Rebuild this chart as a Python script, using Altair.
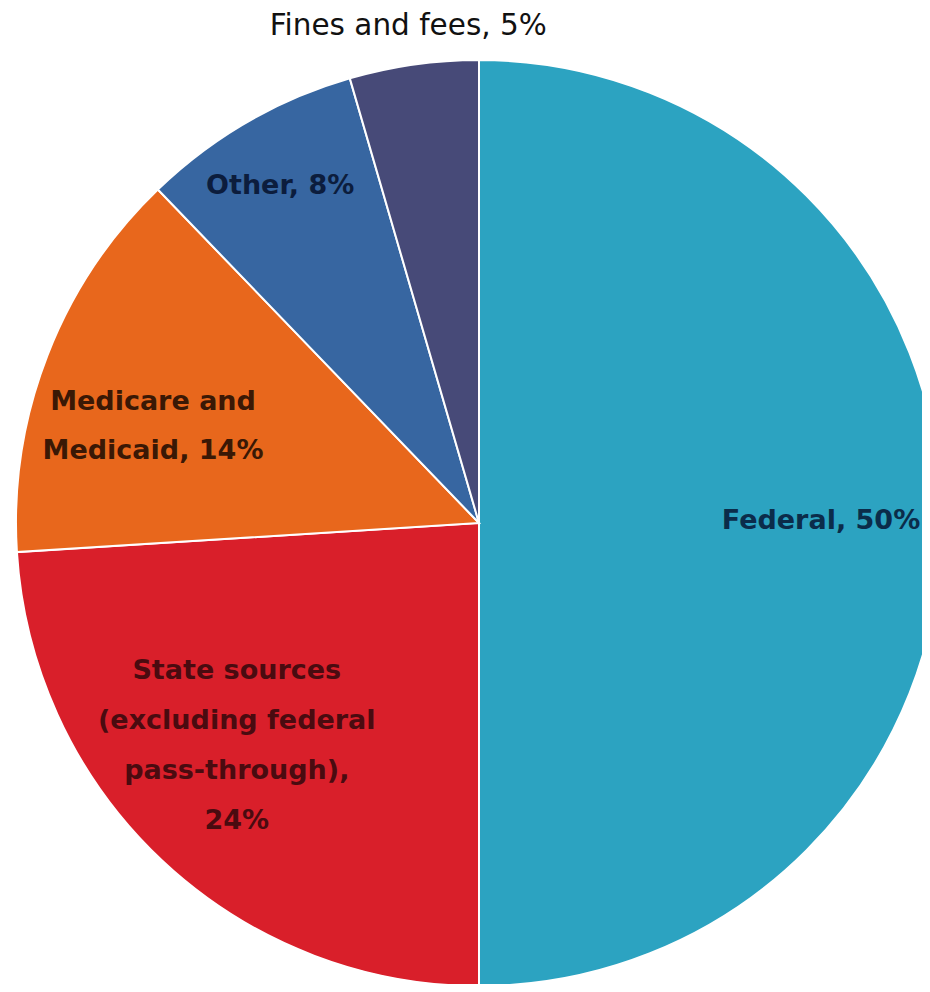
import math
import altair as alt
import pandas as pd

# Data (slice sizes from the drawn angles, printed percentages in labels)
categories = ["Federal", "State sources", "Medicare and Medicaid", "Other", "Fines and fees"]
shares = [50.0, 24.0, 13.8, 7.7, 4.5]
labels = [
    "Federal, 50%",
    "State sources\n(excluding federal\npass-through),\n24%",
    "Medicare and\nMedicaid, 14%",
    "Other, 8%",
    "Fines and fees, 5%",
]
colors = ["#2ca3c1", "#d91f2a", "#e8671c", "#3766a1", "#474a78"]

# Styling for the labels (not data)
label_radius = [354, 329, 339, 391, 502]
label_dx = [-12, -17, -10, -3, 0]
label_dy = [-2, -92, 2, 1, 0]
label_color = ["#0b2c4a", "#4a0b10", "#3a1805", "#0c1d3d", "#111111"]
label_weight = ["bold", "bold", "bold", "bold", "normal"]
label_size = [27, 27, 27, 27, 29.5]
label_lh = [50, 50, 49, 30, 30]

df = pd.DataFrame({
    "idx": list(range(len(categories))),
    "category": categories,
    "share": shares,
    "label": labels,
})

total = float(sum(shares))
CX, CY, R = 471, 515, 463
theta_scale = alt.Scale(domain=[0, total], range=[0, 2 * math.pi])

arcs = alt.Chart(df).mark_arc(
    outerRadius=R, stroke="white", strokeWidth=2
).encode(
    theta=alt.Theta("share:Q", stack=True, scale=theta_scale),
    color=alt.Color("category:N", scale=alt.Scale(domain=categories, range=colors), legend=None),
    order=alt.Order("idx:Q"),
    x=alt.value(CX),
    y=alt.value(CY),
)

base = alt.Chart(df).transform_window(
    cum="sum(share)", sort=[alt.SortField("idx")], frame=[None, 0]
).transform_calculate(
    mid="datum.cum - datum.share / 2"
)

layers = [arcs]
for i in range(len(categories)):
    t = base.transform_filter(alt.datum.idx == i).mark_text(
        radius=label_radius[i],
        dx=label_dx[i],
        dy=label_dy[i],
        align="center",
        baseline="middle",
        font="DejaVu Sans",
        fontSize=label_size[i],
        fontWeight=label_weight[i],
        color=label_color[i],
        lineBreak="\n",
        lineHeight=label_lh[i],
    ).encode(
        theta=alt.Theta("mid:Q", scale=theta_scale),
        text="label:N",
        x=alt.value(CX),
        y=alt.value(CY),
    )
    layers.append(t)

chart = alt.layer(*layers).properties(
    width=914,
    height=976,
    padding=0,
    autosize=alt.AutoSizeParams(type="none"),
).configure_view(stroke=None)

chart.save("out.html", embed_options={"renderer": "svg", "actions": False})
